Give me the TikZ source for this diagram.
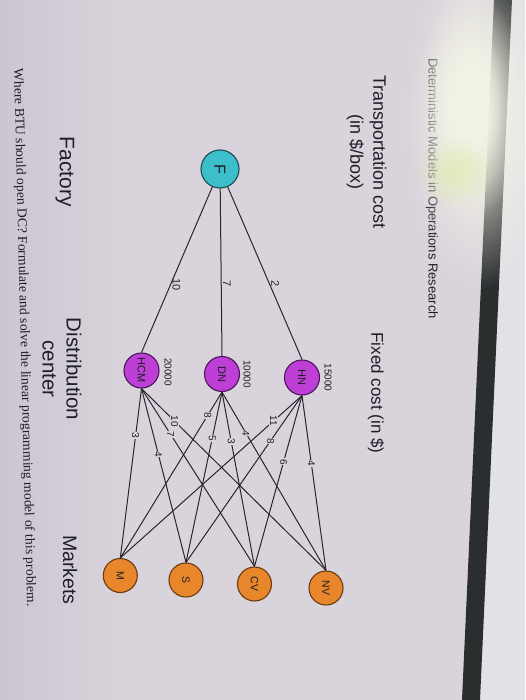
\documentclass[tikz,border=0pt]{standalone}
\usepackage{graphicx}
\usepackage{fontspec}
\setmainfont{Liberation Sans}
\newfontfamily\capfont{Liberation Serif}
\usetikzlibrary{fadings}
\definecolor{bgc}{HTML}{D9D3DC}
\definecolor{bgdark}{HTML}{CBC6CF}
\definecolor{rightc}{HTML}{E2E1E7}
\definecolor{barc}{HTML}{2A2E2F}
\definecolor{glarec}{HTML}{F3F4E6}
\definecolor{glarey}{HTML}{E2EAB4}
\definecolor{txt}{HTML}{1E1E26}
\definecolor{edgec}{HTML}{26262E}
\definecolor{fcyan}{HTML}{3DBFCB}
\definecolor{fline}{HTML}{1F4A52}
\definecolor{dmag}{HTML}{BE3FD5}
\definecolor{dline}{HTML}{4A1659}
\definecolor{morange}{HTML}{E8862C}
\definecolor{mline}{HTML}{6A3A12}
\tikzfading[name=fuzzyglare, inner color=transparent!0, outer color=transparent!100]
\newcommand{\rt}[1]{\rotatebox{-90}{#1}}
\begin{document}
\begin{tikzpicture}[x=1pt,y=-1pt,
  every node/.style={text=txt},
  fnode/.style={circle, draw=fline, line width=1.1pt, fill=fcyan, minimum size=38pt, inner sep=0pt, font=\fontsize{16}{16}\selectfont},
  dcnode/.style={circle, draw=dline, line width=1.1pt, fill=dmag, minimum size=35pt, inner sep=0pt, font=\fontsize{11}{11}\selectfont},
  mknode/.style={circle, draw=mline, line width=1.1pt, fill=morange, minimum size=34pt, inner sep=0pt, font=\fontsize{10.5}{10.5}\selectfont},
  link/.style={draw=edgec, line width=1pt},
  flab/.style={rotate=-90, anchor=south, inner sep=1.5pt, font=\fontsize{11}{11}\selectfont},
  clab/.style={rotate=-90, fill=bgc, inner sep=0.6pt, font=\fontsize{10}{10}\selectfont},
  fclab/.style={rotate=-90, font=\fontsize{10}{10}\selectfont},
  heading/.style={rotate=-90, align=center, inner sep=0pt},
  glow/.style={path fading=fuzzyglare}
]
\useasboundingbox (0,0) rectangle (525,700);
% background
\fill[bgc] (0,0) rectangle (525,700);
\shade[left color=bgdark, right color=bgc] (0,0) rectangle (130,700);
\fill[rightc] (512,0) -- (525,0) -- (525,700) -- (480,700) -- cycle;
\fill[barc] (494,0) -- (512,0) -- (480,700) -- (462,700) -- cycle;

% header text (partly washed out by glare)
\node[rotate=-90, font=\fontsize{13}{13}\selectfont, inner sep=0pt] (hdr) at (432,188.5) {Deterministic Models in Operations Research};
% glare
\fill[glarec, opacity=1, glow] (478,120) ellipse (75 and 170);
\fill[glarec, opacity=1, glow] (470,105) ellipse (52 and 120);
\fill[glarec, opacity=0.9, glow] (466,100) ellipse (38 and 85);
\fill[glarey, opacity=0.9, glow] (455,172) ellipse (40 and 36);

% titles
\node[heading, font=\fontsize{18}{23}\selectfont] (tc) at (366.5,152) {Transportation cost\\(in \$/box)};
\node[heading, font=\fontsize{17}{17}\selectfont] (fc) at (376,393) {Fixed cost (in \$)};
\node[heading, font=\fontsize{21}{21}\selectfont] (fac) at (65,172) {Factory};
\node[heading, font=\fontsize{20.5}{24}\selectfont] (dc) at (62,369) {Distribution\\center};
\node[heading, font=\fontsize{19.5}{19.5}\selectfont] (mk) at (70,570) {Markets};
\node[rotate=-88.6, inner sep=0pt, font=\capfont\fontsize{13.6}{14}\selectfont] (cap) at (24,337.5) {Where BTU should open DC? Formulate and solve the linear programming model of this problem.};

% nodes
\node[fnode] (F) at (220,169) {\rt{F}};
\node[dcnode] (HN) at (302,377.5) {\rt{HN}};
\node[dcnode] (DN) at (222,374) {\rt{DN}};
\node[dcnode] (HCM) at (141.5,370.5) {\rt{HCM}};
\node[mknode] (NV) at (326,588) {\rt{NV}};
\node[mknode] (CV) at (254.5,584) {\rt{CV}};
\node[mknode] (S) at (186,580) {\rt{S}};
\node[mknode] (M) at (120.3,575.5) {\rt{M}};

% fixed costs
\node[fclab] (fHN) at (328,377.5) {15000};
\node[fclab] (fDN) at (247,374) {10000};
\node[fclab] (fHCM) at (168,372) {20000};

% factory to DCs
\draw[link] (F) -- node[flab, pos=0.562] (a1) {2} (HN.north);
\draw[link] (F) -- node[flab, pos=0.570] (a2) {7} (DN.north);
\draw[link] (F) -- node[flab, pos=0.591] (a3) {10} (HCM.north);

% DCs to markets
\draw[link] (HCM.south) -- node[clab, pos=0.276] (b1) {3} (M.north);
\draw[link] (HCM.south) -- node[clab, pos=0.377] (b2) {4} (S.north);
\draw[link] (HCM.south) -- node[clab, pos=0.257] (b3) {7} (CV.north);
\draw[link] (HCM.south) -- node[clab, pos=0.179] (b4) {10} (NV.north);
\draw[link] (DN.south) -- node[clab, pos=0.140] (c1) {8} (M.north);
\draw[link] (DN.south) -- node[clab, pos=0.272] (c2) {5} (S.north);
\draw[link] (DN.south) -- node[clab, pos=0.285] (c3) {3} (CV.north);
\draw[link] (DN.south) -- node[clab, pos=0.229] (c4) {4} (NV.north);
\draw[link] (HN.south) -- node[clab, pos=0.157] (d1) {11} (M.north);
\draw[link] (HN.south) -- node[clab, pos=0.272] (d2) {8} (S.north);
\draw[link] (HN.south) -- node[clab, pos=0.388] (d3) {6} (CV.north);
\draw[link] (HN.south) -- node[clab, pos=0.388] (d4) {4} (NV.north);
\end{tikzpicture}
\end{document}
